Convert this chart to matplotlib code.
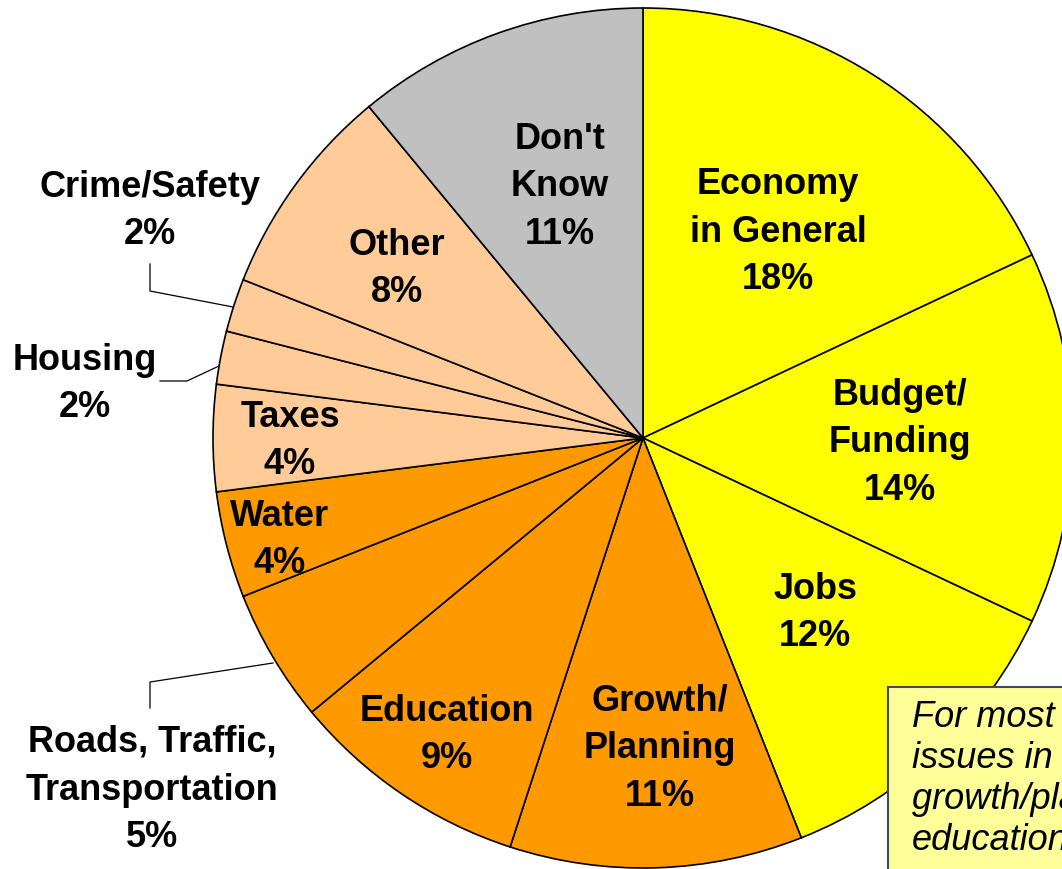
import matplotlib
matplotlib.use("Agg")
import matplotlib.pyplot as plt
from matplotlib.patches import Rectangle

# data
categories = ["Economy\nin General", "Budget/\nFunding", "Jobs", "Growth/\nPlanning",
              "Education", "Roads, Traffic,\nTransportation", "Water", "Taxes",
              "Housing", "Crime/Safety", "Other", "Don't\nKnow"]
values = [18, 14, 12, 11, 9, 5, 4, 4, 2, 2, 8, 11]
colors = ["#FFFF00", "#FFFF00", "#FFFF00", "#FF9900", "#FF9900", "#FF9900",
          "#FF9900", "#FFCC99", "#FFCC99", "#FFCC99", "#FFCC99", "#C0C0C0"]
note_lines = ["For most residents, the top", "issues in the county are",
              "growth/planning and", "education."]

W, H = 1062, 869

# label centres in pixel coords (x, y from top)
label_pos = [(778, 232), (900, 443), (815, 613), (660, 749), (447, 735),
             (152, 790), (280, 540), (290, 441), (85, 384), (150, 211),
             (397, 269), (560, 187)]

plt.rcParams['font.family'] = ['Liberation Sans', 'DejaVu Sans']

fig = plt.figure(figsize=(W / 100, H / 100), dpi=100)
ax = fig.add_axes([0, 0, 1, 1])

cx, cy, R = 643, H - 438, 430
ax.pie(values, colors=colors, startangle=90, counterclock=False,
       center=(cx, cy), radius=R,
       wedgeprops=dict(edgecolor="black", linewidth=1.2))
ax.set_xlim(0, W)
ax.set_ylim(0, H)
ax.set_aspect("equal")
ax.axis("off")

for name, v, (x, y) in zip(categories, values, label_pos):
    ax.text(x, H - y, f"{name}\n{v}%", ha="center", va="center",
            fontsize=26, fontweight="bold", linespacing=1.48)

# leader lines for the small slices
leaders = [
    [(150, 264), (150, 291), (233, 307)],   # crime/safety
    [(160, 381), (187, 381), (219, 366)],   # housing
    [(150, 708), (150, 682), (273, 663)],   # roads
]
for pts in leaders:
    ax.plot([p[0] for p in pts], [H - p[1] for p in pts], color="black", lw=0.9)

# note box, cut off at the right edge like the original slide
ax.add_patch(Rectangle((888, -20), 300, H - 687 + 20, facecolor="#FFFF99",
                       edgecolor="#3B4A6B", linewidth=1.5, zorder=5))
ax.text(912, H - 700, "\n".join(note_lines), ha="left", va="top",
        fontsize=26, style="italic", linespacing=1.22, zorder=6)

fig.savefig("out.png", dpi=100)
